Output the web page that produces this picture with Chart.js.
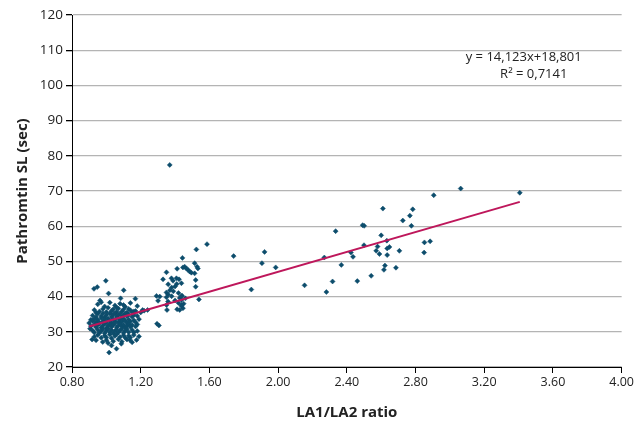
<!DOCTYPE html>
<html>
<head>
<meta charset="utf-8">
<script src="https://cdn.jsdelivr.net/npm/chart.js@4/dist/chart.umd.min.js"></script>
<style>
  html, body { margin: 0; padding: 0; background: #fff; }
  #wrap { width: 636px; height: 426px; }
</style>
</head>
<body>
<div id="wrap"><canvas id="myChart" width="636" height="426"></canvas></div>
<script>
// LA1/LA2 ratio vs Pathromtin SL (sec)
const lowGroup = [
  [0.997,44.5],[0.928,42.2],[0.947,42.7],[1.013,40.9],[1.101,41.8],[1.169,39.4],[0.963,38.9],[1.083,39.5],
  [1.016,24.1],[1.059,25.2],[1.030,26.1],[0.917,27.8],[0.940,27.6],[0.979,27.1],[1.087,26.6],[1.137,27.7],[1.176,27.7],
  [1.211,36.2],[1.240,36.2],[1.295,32.3],[1.306,31.8],
  [1.13,36.5],[1.16,35.8],[1.18,37.3],[1.10,37.6],[1.14,38.2],[1.20,35.5],[1.22,36.0],
  [0.90,32.5],[0.905,30.9],[0.91,33.4],
  [0.95,37.8],[0.99,37.2],[1.02,38.3],[1.05,37.5],[1.08,38.0],[1.11,37.1],[0.97,38.4],[1.06,36.9],
  [0.93,36.2],[0.96,35.8],[0.98,36.5],[1.00,35.6],[1.01,36.8],[1.03,35.9],[1.04,36.4],[1.06,35.7],
  [1.07,36.6],[1.09,35.8],[1.10,36.3],[1.12,35.5],[1.14,36.1],[1.15,35.6],[0.94,35.4],[1.17,35.9],
  [0.92,34.6],[0.94,34.2],[0.95,35.1],[0.97,34.5],[0.98,35.3],[0.99,34.1],[1.00,34.8],[1.02,35.2],
  [1.03,34.3],[1.04,34.9],[1.05,35.3],[1.06,34.4],[1.07,34.8],[1.08,35.1],[1.09,34.2],[1.10,34.7],
  [1.11,35.2],[1.12,34.4],[1.13,34.9],[1.15,34.3],[1.16,34.8],[1.18,34.5],
  [0.92,33.1],[0.93,33.7],[0.94,32.8],[0.95,33.4],[0.96,32.6],[0.97,33.9],[0.98,33.0],[0.99,33.5],
  [1.00,32.7],[1.01,33.8],[1.02,33.2],[1.03,32.6],[1.04,33.6],[1.05,33.0],[1.06,33.9],[1.07,32.8],
  [1.08,33.4],[1.09,32.9],[1.10,33.7],[1.11,33.1],[1.12,32.6],[1.13,33.5],[1.14,32.9],[1.16,33.3],
  [1.17,32.7],[1.19,33.6],
  [0.91,31.6],[0.93,32.1],[0.94,31.3],[0.95,31.9],[0.96,32.4],[0.97,31.2],[0.98,31.8],[0.99,32.3],
  [1.00,31.1],[1.01,31.7],[1.02,32.2],[1.03,31.4],[1.04,31.9],[1.05,32.4],[1.06,31.3],[1.07,31.8],
  [1.08,32.3],[1.09,31.5],[1.10,32.0],[1.11,31.2],[1.12,31.7],[1.13,32.2],[1.14,31.4],[1.15,31.9],
  [1.17,31.5],[1.18,32.1],
  [0.92,30.4],[0.93,29.8],[0.95,30.6],[0.96,29.7],[0.97,30.2],[0.98,30.8],[0.99,29.6],[1.00,30.3],
  [1.01,30.9],[1.02,29.9],[1.03,30.5],[1.04,29.6],[1.05,30.2],[1.06,30.7],[1.07,29.8],[1.08,30.4],
  [1.09,30.9],[1.10,29.7],[1.11,30.3],[1.12,30.8],[1.13,29.9],[1.15,30.5],[1.16,29.8],[1.18,30.2],
  [0.93,28.6],[0.95,29.1],[0.97,28.3],[0.99,28.9],[1.00,28.4],[1.02,29.2],[1.03,28.2],[1.05,28.8],
  [1.06,29.3],[1.08,28.5],[1.10,29.0],[1.11,28.3],[1.13,28.9],[1.14,28.4],[1.16,29.1],[1.19,28.7],
  [1.00,27.6],[1.04,27.3],[1.07,27.9],[1.09,27.2],[1.12,27.8],[1.15,27.0],[1.01,26.8]
];

const midGroup = [
  [1.586,54.9],[1.524,53.4],[1.443,51.0],[1.446,48.3],[1.456,48.5],[1.466,48.0],[1.475,47.6],[1.485,47.1],
  [1.495,46.8],[1.514,49.5],[1.528,48.5],[1.412,47.9],[1.350,46.9],[1.330,44.9],[1.379,45.2],[1.388,44.5],
  [1.408,45.2],[1.423,44.9],[1.437,43.8],[1.36,43.5],[1.38,42.6],[1.37,41.8],[1.35,41.2],[1.39,41.5],
  [1.40,42.9],[1.41,43.6],[1.36,40.6],[1.38,40.1],[1.42,41.0],[1.520,44.7],[1.520,42.8],[1.539,39.2],
  [1.292,40.2],[1.311,40.0],[1.301,38.8],[1.350,39.8],[1.359,38.6],[1.427,39.6],[1.437,39.0],[1.437,37.3],
  [1.446,36.7],[1.427,36.2],[1.353,36.2],[1.412,36.4],[1.40,38.9],[1.42,38.2],[1.44,40.3],[1.46,39.5],
  [1.45,38.0],[1.514,46.6],[1.533,48.0],[1.35,37.6],[1.437,40.0],[1.437,37.6],[1.369,77.4]
];

const highGroup = [
  [1.741,51.5],[1.921,52.7],[1.906,49.5],[1.986,48.3],[1.844,42.0],[2.154,43.2],[2.281,41.3],[2.269,51.1],
  [2.317,44.3],[2.368,49.0],[2.335,58.6],[2.424,52.5],[2.436,51.3],[2.461,44.4],[2.492,60.3],[2.501,60.1],
  [2.500,54.6],[2.542,45.9],[2.579,54.2],[2.571,53.0],[2.590,52.1],[2.600,57.4],[2.610,65.0],[2.633,55.9],
  [2.635,53.7],[2.648,54.1],[2.635,51.8],[2.622,48.8],[2.616,47.6],[2.686,48.2],[2.706,53.0],[2.726,61.6],
  [2.767,63.0],[2.784,64.8],[2.776,60.1],[2.852,55.4],[2.885,55.7],[2.850,52.5],[2.906,68.8],[3.063,70.7],
  [3.407,69.5]
];

// linear trendline as printed on the chart
const trendSlope = 14.123;
const trendIntercept = 18.801;
const trendLabel = ["y = 14,123x+18,801", "R² = 0,7141"];

const allPoints = lowGroup.concat(midGroup, highGroup).map(([x, y]) => ({ x, y }));
const xs = allPoints.map((p) => p.x);
const minX = Math.min(...xs);
const maxX = Math.max(...xs);
const trendPoints = [minX, maxX].map((x) => ({ x, y: trendSlope * x + trendIntercept }));

const fontFamily = "'Open Sans', 'Noto Sans', sans-serif";

// writes the regression equation in the upper right
const equationText = {
  id: "equationText",
  afterDraw(chart) {
    const { ctx, scales } = chart;
    const cx = scales.x.getPixelForValue(3.43);
    ctx.save();
    ctx.fillStyle = "#222";
    ctx.font = "13px " + fontFamily;
    ctx.textAlign = "center";
    ctx.textBaseline = "middle";
    ctx.fillText(trendLabel[0], cx, scales.y.getPixelForValue(107.9));
    ctx.fillText(trendLabel[1], cx + 10, scales.y.getPixelForValue(103.1));
    ctx.restore();
  },
};

new Chart(document.getElementById("myChart"), {
  type: "scatter",
  data: {
    datasets: [
      {
        label: "Trend",
        type: "line",
        data: trendPoints,
        borderColor: "#be175b",
        borderWidth: 2,
        pointRadius: 0,
        fill: false,
        order: 0,
      },
      {
        label: "Patients",
        data: allPoints,
        pointStyle: "rectRot",
        pointRadius: 2.5,
        pointBackgroundColor: "#0d4d6c",
        pointBorderColor: "#0d4d6c",
        pointBorderWidth: 0.5,
        order: 1,
      },
    ],
  },
  options: {
    responsive: false,
    animation: false,
    layout: { padding: { top: 15, right: 13, left: 0, bottom: 0 } },
    plugins: {
      legend: { display: false },
      tooltip: { enabled: false },
    },
    scales: {
      x: {
        type: "linear",
        min: 0.8,
        max: 4.0,
        afterFit: (scale) => { scale.height = 59; },
        afterBuildTicks: (scale) => {
          scale.ticks = [0.8, 1.2, 1.6, 2.0, 2.4, 2.8, 3.2, 3.6, 4.0].map((v) => ({ value: v }));
        },
        ticks: {
          callback: (v) => Number(v).toFixed(2),
          color: "#222",
          font: { family: fontFamily, size: 12.5 },
          padding: 2,
          maxRotation: 0,
        },
        grid: { drawOnChartArea: false, tickColor: "#000", tickLength: 6 },
        border: { color: "#000", width: 1 },
        title: {
          display: true,
          text: "LA1/LA2 ratio",
          color: "#222",
          font: { family: fontFamily, size: 15, weight: "bold" },
          padding: { top: 14 },
        },
      },
      y: {
        min: 20,
        max: 120,
        afterFit: (scale) => { scale.width = 72; },
        ticks: {
          stepSize: 10,
          color: "#222",
          font: { family: fontFamily, size: 13.5 },
          padding: 3,
        },
        grid: { color: "#b4b4b4", lineWidth: 1.3, tickColor: "#000", tickLength: 6 },
        border: { color: "#000", width: 1 },
        title: {
          display: true,
          text: "Pathromtin SL (sec)",
          color: "#222",
          font: { family: fontFamily, size: 15, weight: "bold" },
          padding: { top: 14, bottom: 4 },
        },
      },
    },
  },
  plugins: [equationText],
});
</script>
</body>
</html>
